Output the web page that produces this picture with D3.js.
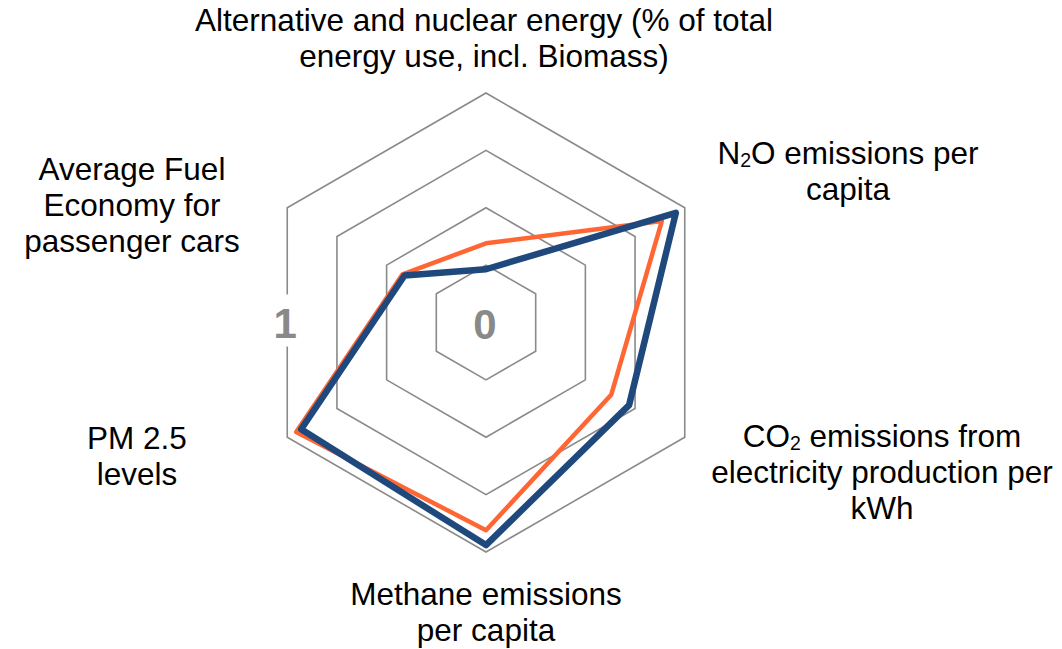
<!DOCTYPE html>
<html>
<head>
<meta charset="utf-8">
<script src="https://cdn.jsdelivr.net/npm/d3@7"></script>
<style>
  html, body { margin: 0; padding: 0; background: #fff; }
  svg { display: block; }
  text { font-family: "Liberation Sans", Arial, sans-serif; }
</style>
</head>
<body>
<svg id="chart" width="1062" height="649"></svg>
<script>
// Indicator axes, clockwise from the top
const axes = [
  "Alternative and nuclear energy",
  "N2O emissions per capita",
  "CO2 emissions from electricity production per kWh",
  "Methane emissions per capita",
  "PM 2.5 levels",
  "Average Fuel Economy for passenger cars"
];

// Normalised scores (0 = centre, 1 = outer ring)
const seriesOrange = [0.345, 0.885, 0.63, 0.905, 0.955, 0.42];
const seriesBlue   = [0.232, 0.955, 0.72, 0.97, 0.93, 0.41];

const gridLevels = [0.25, 0.5, 0.75, 1];
const scaleLabels = ["0", "1"];

// Label lines per axis; segments flagged "sub" are subscripts
const axisLabels = [
  { x: 484, y: 31, lines: [[{t: "Alternative and nuclear energy (% of total"}], [{t: "energy use, incl. Biomass)"}]] },
  { x: 848, y: 164, lines: [[{t: "N"}, {t: "2", sub: true}, {t: "O emissions per"}], [{t: "capita"}]] },
  { x: 882, y: 447, lines: [[{t: "CO"}, {t: "2", sub: true}, {t: " emissions from"}], [{t: "electricity production per"}], [{t: "kWh"}]] },
  { x: 486, y: 605, lines: [[{t: "Methane emissions"}], [{t: "per capita"}]] },
  { x: 137, y: 449, lines: [[{t: "PM 2.5"}], [{t: "levels"}]] },
  { x: 132, y: 180, lines: [[{t: "Average Fuel"}], [{t: "Economy for"}], [{t: "passenger cars"}]] }
];

const svg = d3.select("#chart");
const cx = 486, cy = 322.5, R = 229.5;
const r = d3.scaleLinear().domain([0, 1]).range([0, R]);
const angle = d3.scaleLinear().domain([0, axes.length]).range([0, 2 * Math.PI]);

const radial = d3.lineRadial()
  .angle((d, i) => angle(i))
  .radius(d => r(d))
  .curve(d3.curveLinearClosed);

const g = svg.append("g").attr("transform", `translate(${cx},${cy})`);

// Hexagonal grid rings
g.selectAll("path.grid")
  .data(gridLevels)
  .join("path")
  .attr("class", "grid")
  .attr("d", lv => radial(axes.map(() => lv)))
  .attr("fill", "none")
  .attr("stroke", "#8a8a8a")
  .attr("stroke-width", 1.6);

// Series polygons (blue drawn last, on top)
const series = [
  { values: seriesOrange, color: "#ff6633", width: 4.5 },
  { values: seriesBlue, color: "#1f497d", width: 6.5 }
];
g.selectAll("path.series")
  .data(series)
  .join("path")
  .attr("class", "series")
  .attr("d", s => radial(s.values))
  .attr("fill", "none")
  .attr("stroke", s => s.color)
  .attr("stroke-width", s => s.width)
  .attr("stroke-linejoin", "round");

// Scale labels: "0" at the centre, "1" on the outer ring's left edge
const leftX = -r(1) * Math.cos(Math.PI / 6) - 2;
g.append("rect")
  .attr("x", leftX - 12).attr("y", -28)
  .attr("width", 24).attr("height", 52)
  .attr("fill", "#fff");
g.append("text")
  .attr("x", leftX).attr("y", 15)
  .attr("text-anchor", "middle")
  .attr("font-weight", "bold")
  .attr("font-size", 42)
  .attr("fill", "#898989")
  .text(scaleLabels[1]);
g.append("text")
  .attr("x", r(0) - 1).attr("y", 16)
  .attr("text-anchor", "middle")
  .attr("font-weight", "bold")
  .attr("font-size", 42)
  .attr("fill", "#898989")
  .text(scaleLabels[0]);

// Axis labels
const fontSize = 31.5, lineH = 36, subDrop = 3;
axisLabels.forEach(lab => {
  lab.lines.forEach((segs, li) => {
    const t = svg.append("text")
      .attr("x", lab.x)
      .attr("y", lab.y + li * lineH)
      .attr("text-anchor", "middle")
      .attr("font-size", fontSize)
      .attr("fill", "#000");
    segs.forEach((s, si) => {
      const ts = t.append("tspan").text(s.t);
      if (s.sub) {
        ts.attr("font-size", fontSize * 0.62).attr("dy", subDrop);
      } else if (si > 0 && segs[si - 1].sub) {
        ts.attr("dy", -subDrop);
      }
    });
  });
});
</script>
</body>
</html>
